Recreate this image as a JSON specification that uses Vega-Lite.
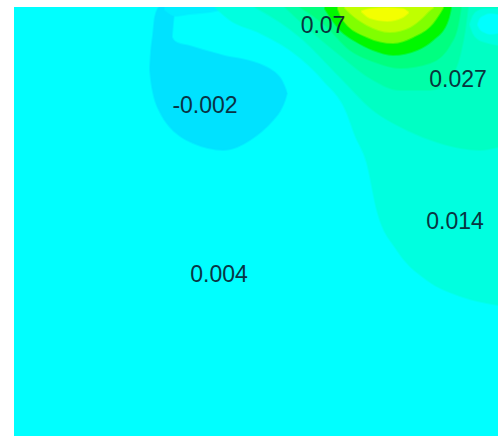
{"$schema":"https://vega.github.io/schema/vega-lite/v6.json","width":484,"height":429,"autosize":"none","padding":{"left":14,"top":7,"right":0,"bottom":0},"background":"white","view":{"fill":"#00FFFF","stroke":null},
"datasets":{"bands":[
{"level":"blob","x":150,"y0":67,"y1":70},{"level":"blob","x":151,"y0":52,"y1":80},{"level":"blob","x":153,"y0":35,"y1":92},{"level":"blob","x":155,"y0":17,"y1":100},{"level":"blob","x":160,"y0":7,"y1":112},{"level":"blob","x":170,"y0":7,"y1":127},{"level":"blob","x":180,"y0":7,"y1":136},{"level":"blob","x":193,"y0":7,"y1":143},{"level":"blob","x":208,"y0":7,"y1":148},{"level":"blob","x":223,"y0":7,"y1":150},{"level":"blob","x":237,"y0":7,"y1":147},{"level":"blob","x":250,"y0":7,"y1":140},{"level":"blob","x":262,"y0":7,"y1":131},{"level":"blob","x":273,"y0":7,"y1":120},{"level":"blob","x":280,"y0":7,"y1":111},{"level":"blob","x":285,"y0":7,"y1":100},{"level":"blob","x":287,"y0":7,"y1":93},
{"level":"notch","x":173,"y0":36,"y1":37},{"level":"notch","x":174,"y0":24,"y1":39},{"level":"notch","x":176,"y0":10,"y1":41},{"level":"notch","x":178,"y0":7,"y1":42},{"level":"notch","x":190,"y0":7,"y1":45},{"level":"notch","x":207,"y0":7,"y1":50},{"level":"notch","x":225,"y0":7,"y1":55},{"level":"notch","x":250,"y0":7,"y1":60},{"level":"notch","x":262,"y0":7,"y1":64},{"level":"notch","x":270,"y0":7,"y1":68},{"level":"notch","x":277,"y0":7,"y1":73},{"level":"notch","x":282,"y0":7,"y1":79},{"level":"notch","x":285,"y0":7,"y1":85},{"level":"notch","x":288,"y0":7,"y1":93},
{"level":"band","x":165,"y0":7,"y1":10},{"level":"band","x":176,"y0":7,"y1":16},{"level":"band","x":190,"y0":7,"y1":14},{"level":"band","x":210,"y0":7,"y1":12},{"level":"band","x":228,"y0":7,"y1":8},
{"level":"l1","x":215,"y0":7,"y1":7},{"level":"l1","x":230,"y0":7,"y1":20},{"level":"l1","x":260,"y0":7,"y1":33},{"level":"l1","x":290,"y0":7,"y1":50},{"level":"l1","x":323,"y0":7,"y1":80},{"level":"l1","x":347,"y0":7,"y1":113},{"level":"l1","x":355,"y0":7,"y1":135},{"level":"l1","x":367,"y0":7,"y1":163},{"level":"l1","x":377,"y0":7,"y1":210},{"level":"l1","x":397,"y0":7,"y1":250},{"level":"l1","x":427,"y0":7,"y1":280},{"level":"l1","x":463,"y0":7,"y1":297},{"level":"l1","x":498,"y0":7,"y1":305},
{"level":"l2","x":255,"y0":7,"y1":7},{"level":"l2","x":280,"y0":7,"y1":22},{"level":"l2","x":300,"y0":7,"y1":37},{"level":"l2","x":340,"y0":7,"y1":77},{"level":"l2","x":373,"y0":7,"y1":110},{"level":"l2","x":407,"y0":7,"y1":130},{"level":"l2","x":440,"y0":7,"y1":143},{"level":"l2","x":480,"y0":7,"y1":150},{"level":"l2","x":498,"y0":7,"y1":147},
{"level":"spot1","x":470,"y0":24,"y1":25},{"level":"spot1","x":473,"y0":16,"y1":33},{"level":"spot1","x":478,"y0":11,"y1":39},{"level":"spot1","x":485,"y0":9,"y1":42},{"level":"spot1","x":498,"y0":9,"y1":45},
{"level":"spot2","x":478,"y0":24,"y1":25},{"level":"spot2","x":480,"y0":19,"y1":29},{"level":"spot2","x":484,"y0":16,"y1":32},{"level":"spot2","x":490,"y0":14,"y1":34},{"level":"spot2","x":498,"y0":15,"y1":33},
{"level":"l3","x":285,"y0":7,"y1":7},{"level":"l3","x":310,"y0":7,"y1":30},{"level":"l3","x":340,"y0":7,"y1":55},{"level":"l3","x":370,"y0":7,"y1":78},{"level":"l3","x":400,"y0":7,"y1":90},{"level":"l3","x":430,"y0":7,"y1":90},{"level":"l3","x":450,"y0":7,"y1":78},{"level":"l3","x":460,"y0":7,"y1":55},{"level":"l3","x":465,"y0":7,"y1":30},{"level":"l3","x":468,"y0":7,"y1":7},
{"level":"l4","x":300,"y0":7,"y1":7},{"level":"l4","x":325,"y0":7,"y1":25},{"level":"l4","x":350,"y0":7,"y1":50},{"level":"l4","x":375,"y0":7,"y1":62},{"level":"l4","x":400,"y0":7,"y1":68},{"level":"l4","x":430,"y0":7,"y1":63},{"level":"l4","x":450,"y0":7,"y1":45},{"level":"l4","x":458,"y0":7,"y1":25},{"level":"l4","x":461,"y0":7,"y1":7},
{"level":"l5","x":325,"y0":7,"y1":9},{"level":"l5","x":340,"y0":7,"y1":30},{"level":"l5","x":355,"y0":7,"y1":41},{"level":"l5","x":373,"y0":7,"y1":50},{"level":"l5","x":393,"y0":7,"y1":55},{"level":"l5","x":417,"y0":7,"y1":50},{"level":"l5","x":433,"y0":7,"y1":40},{"level":"l5","x":447,"y0":7,"y1":23},{"level":"l5","x":450,"y0":7,"y1":13},{"level":"l5","x":451,"y0":7,"y1":8},
{"level":"l6","x":338,"y0":7,"y1":9},{"level":"l6","x":343,"y0":7,"y1":20},{"level":"l6","x":367,"y0":7,"y1":37},{"level":"l6","x":393,"y0":7,"y1":43},{"level":"l6","x":413,"y0":7,"y1":37},{"level":"l6","x":433,"y0":7,"y1":23},{"level":"l6","x":440,"y0":7,"y1":13},{"level":"l6","x":443,"y0":7,"y1":8},
{"level":"l7","x":345,"y0":7,"y1":8},{"level":"l7","x":350,"y0":7,"y1":13},{"level":"l7","x":367,"y0":7,"y1":25},{"level":"l7","x":390,"y0":7,"y1":32},{"level":"l7","x":410,"y0":7,"y1":27},{"level":"l7","x":423,"y0":7,"y1":17},{"level":"l7","x":430,"y0":7,"y1":10},{"level":"l7","x":433,"y0":7,"y1":8},
{"level":"l8","x":362,"y0":11,"y1":12},{"level":"l8","x":370,"y0":9,"y1":18},{"level":"l8","x":387,"y0":8,"y1":21},{"level":"l8","x":403,"y0":9,"y1":17},{"level":"l8","x":408,"y0":12,"y1":13}
],
"labels":[{"x":323,"y":26,"t":"0.07"},{"x":458,"y":80,"t":"0.027"},{"x":205,"y":106,"t":"-0.002"},{"x":455,"y":222,"t":"0.014"},{"x":219,"y":275,"t":"0.004"}]},
"layer":[
{"data":{"name":"bands"},"mark":{"type":"area","interpolate":"monotone","clip":true,"strokeWidth":2,"strokeOpacity":0.5},
"encoding":{"x":{"field":"x","type":"quantitative","scale":{"domain":[14,498],"nice":false,"zero":false},"axis":null},"y":{"field":"y0","type":"quantitative","stack":null,"scale":{"domain":[436,7],"nice":false,"zero":false},"axis":null},"y2":{"field":"y1"},"color":{"field":"level","type":"nominal","legend":null,"sort":null,"scale":{"domain":["blob","notch","band","l1","l2","spot1","spot2","l3","l4","l5","l6","l7","l8"],"range":["#00E2FF","#00FFFF","#00EEFF","#00FFE0","#00FFC4","#00FFE0","#00FFFF","#00FFA8","#00FF80","#00F800","#80FF00","#C0FF00","#F4FF00"]}},"stroke":{"field":"level","type":"nominal","legend":null,"sort":null,"scale":{"domain":["blob","notch","band","l1","l2","spot1","spot2","l3","l4","l5","l6","l7","l8"],"range":["#00E2FF","#00FFFF","#00EEFF","#00FFE0","#00FFC4","#00FFE0","#00FFFF","#00FFA8","#00FF80","#00F800","#80FF00","#C0FF00","#F4FF00"]}}}},
{"data":{"name":"labels"},"mark":{"type":"text","font":"Liberation Sans","fontSize":23,"color":"#0a2030","opacity":0.9,"align":"center","baseline":"middle"},
"encoding":{"x":{"field":"x","type":"quantitative"},"y":{"field":"y","type":"quantitative"},"text":{"field":"t"}}}
]}
